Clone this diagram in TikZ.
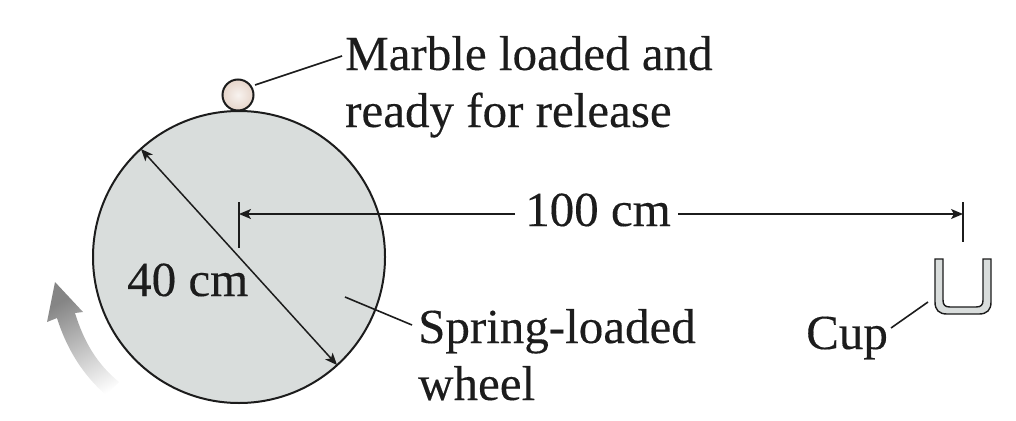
\documentclass[tikz,border=0pt]{standalone}
\usepackage{fontspec}
\setmainfont[FakeBold=0.25]{Liberation Serif}
\usetikzlibrary{arrows.meta}
\definecolor{inkcol}{HTML}{1C1C1C}
\definecolor{wheelcol}{HTML}{D9DDDC}
\definecolor{beadcol}{HTML}{E6D5CA}
\pgfdeclareverticalshading{armfade}{100bp}{color(0bp)=(white); color(20bp)=(white); color(72bp)=(black!48); color(100bp)=(black!48)}
\tikzset{
  lbl/.style={inner sep=0pt,anchor=base west,align=left,text=inkcol,font=\fontsize{49}{57}\selectfont},
  dimline/.style={line width=1.5pt,draw=inkcol,{Stealth[length=12pt,width=10pt,inset=3pt]}-{Stealth[length=12pt,width=10pt,inset=3pt]}},
  dimhalf/.style={line width=1.5pt,draw=inkcol,-{Stealth[length=12pt,width=10pt,inset=3pt]}},
  leader/.style={line width=1.6pt,draw=inkcol},
  tick/.style={line width=1.6pt,draw=inkcol}
}
\begin{document}
\begin{tikzpicture}[x=1pt,y=-1pt]
  \useasboundingbox (0,0) rectangle (1016,420);
  % turning arrow
  \shade[shading=armfade,shading angle=28]
    (119,382) .. controls (97,364) and (84,342) .. (75,313)
    -- (83,312) -- (55,282) -- (47,322) -- (57,318)
    .. controls (67,350) and (84,376) .. (106,395) -- cycle;
  % wheel and marble
  \node[circle,draw=inkcol,fill=wheelcol,line width=2pt,minimum size=292pt,inner sep=0pt] (wheel) at (239,257) {};
  \node[circle,draw=inkcol,line width=2pt,minimum size=31pt,inner sep=0pt,inner color=white!70!beadcol,outer color=beadcol] (marble) at (238,95) {};
  % cup
  \draw[line width=1.4pt,draw=inkcol,fill=wheelcol]
    (935,259) -- (935,302) .. controls (935,310) and (939,314) .. (947,314)
    -- (979,314) .. controls (987,314) and (991,310) .. (991,302)
    -- (991,259) -- (983,259) -- (983,300) .. controls (983,305) and (981,307) .. (976,307)
    -- (950,307) .. controls (945,307) and (943,305) .. (943,300) -- (943,259) -- cycle;
  % labels
  \node[lbl] (marbletxt) at (345,127) {Marble loaded and\\ready for release};
  \node[lbl] (wheeltxt) at (418,400) {Spring-loaded\\wheel};
  \node[lbl] (cuptxt) at (806,349) {Cup};
  \node[lbl] (dia) at (127,296) {40 cm};
  \node[lbl] (dist) at (525,226) {100 cm};
  % dimension marks
  \coordinate (t0a) at (239,202);
  \coordinate (t0b) at (239,248);
  \coordinate (t1a) at (963,202);
  \coordinate (t1b) at (963,242);
  \coordinate (d0) at (239,214);
  \coordinate (d1) at (963,214);
  \coordinate (distl) at (515,214);
  \coordinate (distr) at (678,214);
  \coordinate (rimA) at (141,149);
  \coordinate (rimB) at (337,365);
  \draw[tick] (t0a) -- (t0b);
  \draw[tick] (t1a) -- (t1b);
  \draw[dimhalf] (distl) -- (d0);
  \draw[dimhalf] (distr) -- (d1);
  \draw[dimline] (rimA) -- (rimB);
  % leaders
  \coordinate (m0) at (255,85);
  \coordinate (m1) at (342,56);
  \coordinate (w0) at (345,297);
  \coordinate (w1) at (412,325);
  \coordinate (c0) at (891,328);
  \coordinate (c1) at (928,302);
  \draw[leader] (m0) -- (m1);
  \draw[leader] (w0) -- (w1);
  \draw[leader] (c0) -- (c1);
\end{tikzpicture}
\end{document}
